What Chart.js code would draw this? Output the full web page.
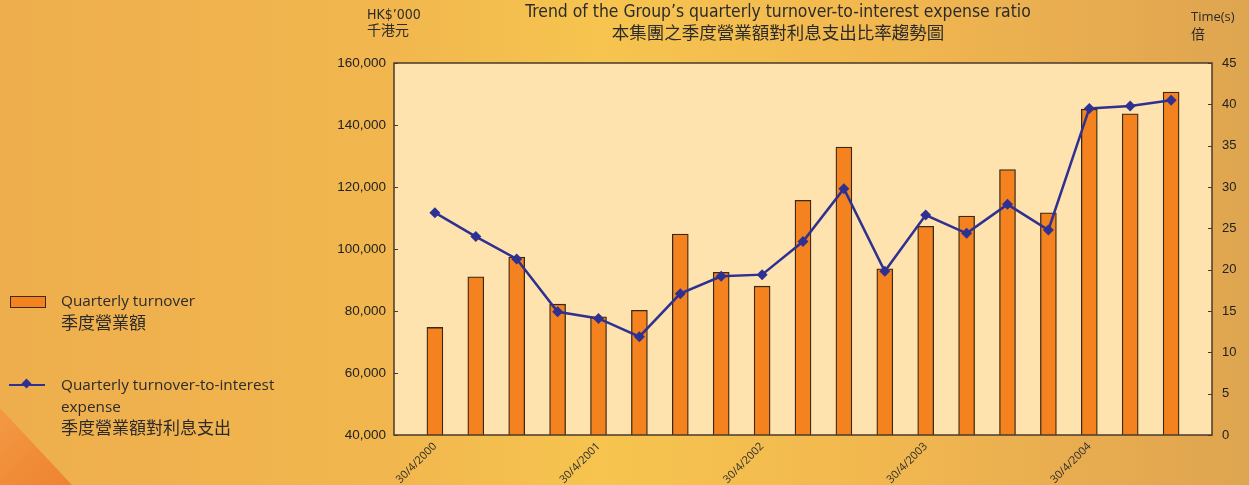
<!DOCTYPE html>
<html>
<head>
<meta charset="utf-8">
<script src="https://cdn.jsdelivr.net/npm/chart.js@4/dist/chart.umd.min.js"></script>
<style>
  html, body { margin: 0; padding: 0; }
  body {
    width: 1249px; height: 485px; overflow: hidden; position: relative;
    background: linear-gradient(90deg, #eeae4d 0%, #f1b64e 30%, #f6c44f 48%, #f2b84f 70%, #e6aa50 90%, #dea550 100%);
    color: #2b2b2b;
  }
  .corner {
    position: absolute; left: 0; top: 408px; width: 80px; height: 77px;
    clip-path: polygon(0 0, 72px 77px, 0 77px);
    background: linear-gradient(135deg, #f39a45 0%, #f08a36 60%, #ee8432 100%);
  }
  #wrap { position: absolute; left: 0; top: 0; width: 1249px; height: 485px; }
  .cond { font-family: 'Liberation Sans Narrow', 'DejaVu Sans Condensed', 'Liberation Sans', sans-serif; }
  .cjk { font-family: 'Noto Sans CJK TC', 'Noto Sans CJK SC', sans-serif; }
  .abs { position: absolute; white-space: nowrap; line-height: 1; }
  #title1 { left: 778px; top: 3px; transform: translateX(-50%); font-size: 17.4px; }
  #title2 { left: 778px; top: 23px; transform: translateX(-50%); font-size: 17.5px; }
  .legend { font-family: 'Open Sans', 'Noto Sans', sans-serif; font-size: 15.3px; }
  .legcjk { font-size: 17px; }
</style>
</head>
<body>
<div class="corner"></div>
<div id="wrap"><canvas id="chart" width="1249" height="485"></canvas></div>

<div class="abs cond" id="title1">Trend of the Group’s quarterly turnover-to-interest expense ratio</div>
<div class="abs cjk" id="title2">本集團之季度營業額對利息支出比率趨勢圖</div>

<div class="abs cond" style="left:367px;top:7px;font-size:14px;">HK$’000</div>
<div class="abs cjk" style="left:367px;top:22px;font-size:14px;">千港元</div>
<div class="abs" style="left:1191px;top:10px;font-size:13px;font-family:'Open Sans',sans-serif;">Time(s)</div>
<div class="abs cjk" style="left:1191px;top:26px;font-size:14px;">倍</div>

<div class="abs" style="left:10px;top:296px;width:34px;height:10px;background:#f4821f;border:1px solid #3d2a18;"></div>
<div class="abs legend" style="left:61px;top:293px;">Quarterly turnover</div>
<div class="abs cjk legcjk" style="left:61px;top:313px;">季度營業額</div>

<div class="abs" style="left:9px;top:384px;width:36px;height:2px;background:#2e3192;"></div>
<div class="abs" style="left:23px;top:380px;width:7px;height:7px;background:#2e3192;transform:rotate(45deg);"></div>
<div class="abs legend" style="left:61px;top:377px;">Quarterly turnover-to-interest</div>
<div class="abs legend" style="left:61px;top:399px;">expense</div>
<div class="abs cjk legcjk" style="left:61px;top:418px;">季度營業額對利息支出</div>

<script>
// 19 quarters, only the 30/4 quarters carry a printed label
const quarterLabels = ['30/4/2000', '', '', '', '30/4/2001', '', '', '', '30/4/2002', '', '', '',
                       '30/4/2003', '', '', '', '30/4/2004', '', ''];
// Quarterly turnover, HK$'000
const turnover = [74700, 91000, 97400, 82200, 78100, 80200, 104800, 92500, 88000, 115700,
                  132900, 93600, 107300, 110600, 125600, 111700, 145100, 143600, 150600];
// Quarterly turnover-to-interest expense, times
const ratio = [26.9, 24.0, 21.3, 14.9, 14.1, 11.9, 17.1, 19.2, 19.4, 23.4,
               29.8, 19.8, 26.6, 24.4, 27.9, 24.8, 39.5, 39.8, 40.5];

// half an empty slot at each end of the axis
const labels = [''].concat(quarterLabels, ['']);
const barData = [null].concat(turnover, [null]);
const lineData = [null].concat(ratio, [null]);

const frameColor = '#4a3a2a';

const plotFrame = {
  id: 'plotFrame',
  beforeDatasetsDraw(chart) {
    const a = chart.chartArea, ctx = chart.ctx;
    ctx.save();
    ctx.fillStyle = '#ffe3ae';
    ctx.fillRect(a.left, a.top, a.right - a.left, a.bottom - a.top);
    ctx.restore();
  },
  afterDraw(chart) {
    const a = chart.chartArea, ctx = chart.ctx;
    ctx.save();
    ctx.strokeStyle = frameColor;
    ctx.lineWidth = 1.5;
    ctx.strokeRect(a.left, a.top, a.right - a.left, a.bottom - a.top);
    // inside tick marks on both value axes
    ctx.lineWidth = 1;
    const y = chart.scales.y, y1 = chart.scales.y1;
    y.ticks.forEach((t, i) => {
      const p = Math.round(y.getPixelForTick(i)) + 0.5;
      ctx.beginPath(); ctx.moveTo(a.left, p); ctx.lineTo(a.left + 4, p); ctx.stroke();
    });
    y1.ticks.forEach((t, i) => {
      const p = Math.round(y1.getPixelForTick(i)) + 0.5;
      ctx.beginPath(); ctx.moveTo(a.right, p); ctx.lineTo(a.right - 4, p); ctx.stroke();
    });
    ctx.restore();
  }
};

new Chart(document.getElementById('chart'), {
  type: 'bar',
  data: {
    labels: labels,
    datasets: [
      {
        type: 'line',
        label: 'Quarterly turnover-to-interest expense',
        data: lineData,
        yAxisID: 'y1',
        borderColor: '#2e3192',
        backgroundColor: '#2e3192',
        borderWidth: 2.5,
        pointStyle: 'rectRot',
        pointRadius: 5.5,
        pointBorderWidth: 0,
        tension: 0,
        order: 0
      },
      {
        type: 'bar',
        label: 'Quarterly turnover',
        data: barData,
        yAxisID: 'y',
        backgroundColor: '#f4821f',
        borderColor: '#3a2816',
        borderWidth: 1.3,
        barThickness: 16,
        order: 1
      }
    ]
  },
  options: {
    responsive: false,
    animation: false,
    layout: { padding: { left: 300, right: 0, top: 63, bottom: 0 } },
    plugins: {
      legend: { display: false },
      title: { display: false },
      tooltip: { enabled: false }
    },
    scales: {
      x: {
        offset: false,
        grid: { display: false, drawTicks: false },
        border: { display: false },
        afterFit(scale) { scale.height = 50; },
        ticks: {
          autoSkip: false,
          maxRotation: 45,
          minRotation: 45,
          padding: 5,
          color: '#2b2b2b',
          font: { family: "'Open Sans', 'Noto Sans', sans-serif", size: 11 }
        }
      },
      y: {
        position: 'left',
        min: 40000,
        max: 160000,
        grid: { display: false, drawTicks: false },
        border: { display: false },
        afterFit(scale) { scale.width = 94; },
        ticks: {
          stepSize: 20000,
          padding: 8,
          color: '#222',
          font: { family: "'Liberation Sans', Arial, sans-serif", size: 13.5 }
        }
      },
      y1: {
        position: 'right',
        min: 0,
        max: 45,
        grid: { display: false, drawTicks: false },
        border: { display: false },
        afterFit(scale) { scale.width = 37; },
        ticks: {
          stepSize: 5,
          padding: 10,
          color: '#222',
          font: { family: "'Liberation Sans', Arial, sans-serif", size: 13 }
        }
      }
    }
  },
  plugins: [plotFrame]
});
</script>
</body>
</html>
